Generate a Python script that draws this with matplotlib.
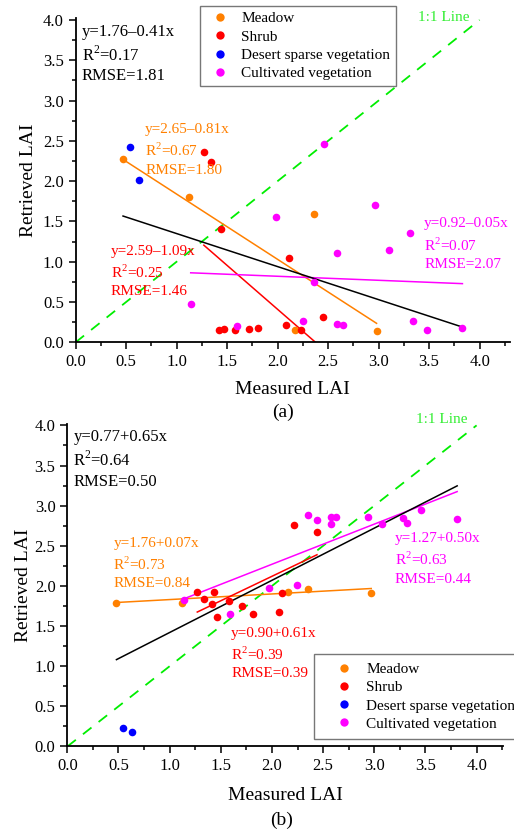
import matplotlib
matplotlib.use("Agg")
import matplotlib.pyplot as plt
from matplotlib.ticker import MultipleLocator
from matplotlib.lines import Line2D

plt.rcParams["font.family"] = ["Liberation Serif", "DejaVu Serif"]
plt.rcParams["mathtext.fontset"] = "custom"
plt.rcParams["mathtext.rm"] = "Liberation Serif"

groups = ["Meadow", "Shrub", "Desert sparse vegetation", "Cultivated vegetation"]
colors = ["#FF8000", "#FF0000", "#0000FF", "#FF00FF"]

# panel (a): measured vs retrieved LAI
a_meadow_x = [0.47, 1.12, 2.36, 2.17, 2.98]
a_meadow_y = [2.28, 1.80, 1.59, 0.15, 0.14]
a_shrub_x = [1.27, 1.34, 1.44, 2.11, 1.42, 1.47, 1.58, 1.72, 1.81, 2.08, 2.23, 2.45]
a_shrub_y = [2.36, 2.24, 1.41, 1.05, 0.15, 0.17, 0.15, 0.16, 0.18, 0.22, 0.15, 0.31]
a_desert_x = [0.54, 0.63]
a_desert_y = [2.43, 2.01]
a_cult_x = [1.98, 2.46, 2.96, 3.31, 2.59, 3.10, 1.14, 1.60, 2.25, 2.36, 2.59, 2.65, 3.34, 3.48, 3.83]
a_cult_y = [1.56, 2.46, 1.71, 1.36, 1.11, 1.14, 0.48, 0.20, 0.26, 0.75, 0.23, 0.21, 0.26, 0.15, 0.18]

# panel (b)
b_meadow_x = [0.48, 1.12, 2.16, 2.35, 2.97]
b_meadow_y = [1.79, 1.79, 1.93, 1.96, 1.91]
b_shrub_x = [1.27, 1.34, 1.43, 1.41, 1.46, 1.58, 1.71, 1.81, 2.07, 2.10, 2.22, 2.44]
b_shrub_y = [1.93, 1.84, 1.93, 1.78, 1.61, 1.81, 1.75, 1.65, 1.67, 1.91, 2.76, 2.67]
b_desert_x = [0.54, 0.63]
b_desert_y = [0.23, 0.18]
b_cult_x = [1.14, 1.59, 1.97, 2.24, 2.35, 2.44, 2.575, 2.63, 2.58, 2.94, 3.08, 3.28, 3.32, 3.46, 3.81]
b_cult_y = [1.83, 1.65, 1.97, 2.01, 2.88, 2.82, 2.855, 2.86, 2.77, 2.855, 2.77, 2.85, 2.79, 2.95, 2.83]

# fitted lines (intercept, slope, R2, RMSE)
a_fits = {"Meadow": (2.65, -0.81, 0.67, 1.80), "Shrub": (2.59, -1.09, 0.25, 1.46),
          "Cultivated vegetation": (0.92, -0.05, 0.07, 2.07), "All": (1.76, -0.41, 0.17, 1.81)}
b_fits = {"Meadow": (1.76, 0.07, 0.73, 0.84), "Shrub": (0.90, 0.61, 0.39, 0.39),
          "Cultivated vegetation": (1.27, 0.50, 0.63, 0.44), "All": (0.77, 0.65, 0.64, 0.50)}


def eq_text(fit):
    b0, b1, r2, rmse = fit
    sign = "+" if b1 >= 0 else "\u2013"
    return f"y={b0:.2f}{sign}{abs(b1):.2f}x\nR$^2$=%.2f\nRMSE=%.2f" % (r2, rmse)


def panel(ax, data, fits, xmax, text_pos, one_pos):
    allx = []
    for name, col, (xs, ys) in zip(groups, colors, data):
        ax.scatter(xs, ys, s=30, color=col, zorder=3, linewidths=0)
        allx += xs
        if name in fits:
            b0, b1 = fits[name][:2]
            x0, x1 = min(xs), max(xs)
            ax.plot([x0, x1], [b0 + b1 * x0, b0 + b1 * x1], color=col, lw=1.1, zorder=2)
    b0, b1 = fits["All"][:2]
    x0, x1 = min(allx), max(allx)
    ax.plot([x0, x1], [b0 + b1 * x0, b0 + b1 * x1], color="black", lw=1.1, zorder=2)
    ax.plot([0, 4], [0, 4], color="#00EE00", ls=(0, (6, 5)), lw=1.3, zorder=1)
    ax.text(one_pos[0], one_pos[1], "1:1 Line", color="#33EE33", fontsize=11,
            ha="center", va="center", clip_on=False)

    for name, col in [("All", "black"), ("Meadow", colors[0]), ("Shrub", colors[1]),
                      ("Cultivated vegetation", colors[3])]:
        tx, ty = text_pos[name]
        big = name == "All"
        ax.text(tx, ty, eq_text(fits[name]), color=col, fontsize=12 if big else 11,
                ha="left", va="top", linespacing=1.33 if big else 1.42)

    ax.set_xlim(0, xmax)
    ax.set_ylim(0, 4.02)
    ax.xaxis.set_major_locator(MultipleLocator(0.5))
    ax.xaxis.set_minor_locator(MultipleLocator(0.25))
    ax.yaxis.set_major_locator(MultipleLocator(0.5))
    ax.yaxis.set_minor_locator(MultipleLocator(0.25))
    ax.xaxis.set_major_formatter(lambda v, p: f"{v:.1f}")
    ax.yaxis.set_major_formatter(lambda v, p: f"{v:.1f}")
    ax.tick_params(which="both", direction="out", labelsize=12, width=1.1)
    ax.tick_params(which="major", length=5)
    ax.tick_params(which="minor", length=3)
    for s in ["top", "right"]:
        ax.spines[s].set_visible(False)
    for s in ["left", "bottom"]:
        ax.spines[s].set_linewidth(1.3)
    ax.set_xlabel("Measured LAI", fontsize=14)
    ax.set_ylabel("Retrieved LAI", fontsize=14)


fig = plt.figure(figsize=(5.14, 8.35), dpi=100)
ax1 = fig.add_axes([0.147, 0.590, 0.845, 0.388])
ax2 = fig.add_axes([0.131, 0.106, 0.848, 0.3865])

data_a = [(a_meadow_x, a_meadow_y), (a_shrub_x, a_shrub_y),
          (a_desert_x, a_desert_y), (a_cult_x, a_cult_y)]
data_b = [(b_meadow_x, b_meadow_y), (b_shrub_x, b_shrub_y),
          (b_desert_x, b_desert_y), (b_cult_x, b_cult_y)]

panel(ax1, data_a, a_fits, 4.3,
      {"All": (0.06, 3.95), "Meadow": (0.69, 2.72), "Shrub": (0.35, 1.21),
       "Cultivated vegetation": (3.45, 1.55)}, (3.65, 4.03))
panel(ax2, data_b, b_fits, 4.26,
      {"All": (0.06, 3.95), "Meadow": (0.45, 2.61), "Shrub": (1.6, 1.49),
       "Cultivated vegetation": (3.2, 2.67)}, (3.66, 4.07))

handles = [Line2D([], [], ls="none", marker="o", markersize=6, color=c, markeredgewidth=0)
           for c in colors]
legend_opts = [(ax1, (0.286, 1.037), 2.0, 0.38, 0.35),
               (ax2, (0.567, 0.287), 2.8, 0.05, 0.55)]
for ax, anchor, hl, hp, bp in legend_opts:
    leg = ax.legend(handles, groups, loc="upper left", bbox_to_anchor=anchor, fontsize=11,
                    frameon=True, fancybox=False, edgecolor="#555555", handletextpad=hp,
                    labelspacing=0.3, borderpad=bp, handlelength=hl, borderaxespad=0)
    leg.get_frame().set_linewidth(1.0)

ax1.xaxis.set_label_coords(0.5, -0.12)
ax2.xaxis.set_label_coords(0.5, -0.125)
ax1.yaxis.set_label_coords(-0.089, 0.5)
ax2.yaxis.set_label_coords(-0.081, 0.5)

fig.text(283 / 514, 1 - 412 / 835, "(a)", fontsize=14, ha="center", va="center")
fig.text(282 / 514, 1 - 820 / 835, "(b)", fontsize=14, ha="center", va="center")

fig.savefig("out.png", dpi=100)
